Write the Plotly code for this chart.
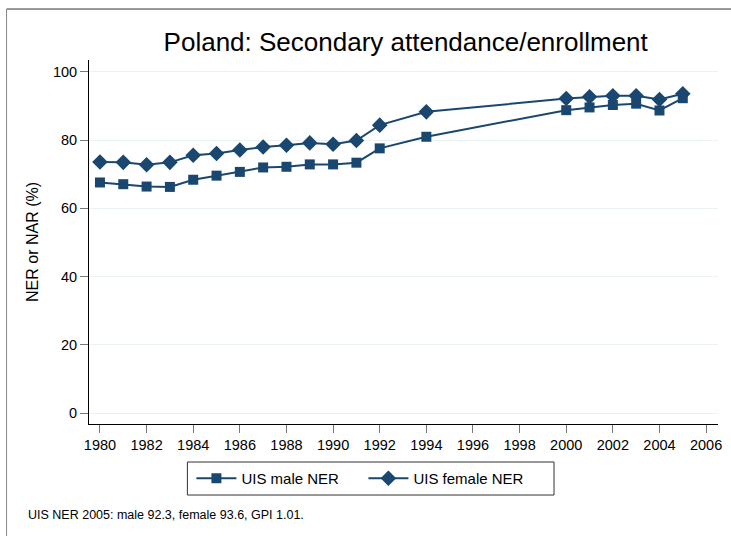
import plotly.graph_objects as go

years_male = [1980, 1981, 1982, 1983, 1984, 1985, 1986, 1987, 1988, 1989, 1990, 1991, 1992, 1994, 2000, 2001, 2002, 2003, 2004, 2005]
male_ner = [67.6, 67.1, 66.4, 66.3, 68.4, 69.6, 70.7, 72.0, 72.2, 72.9, 72.9, 73.4, 77.6, 81.0, 88.8, 89.6, 90.3, 90.7, 88.7, 92.3]
years_female = [1980, 1981, 1982, 1983, 1984, 1985, 1986, 1987, 1988, 1989, 1990, 1991, 1992, 1994, 2000, 2001, 2002, 2003, 2004, 2005]
female_ner = [73.6, 73.5, 72.8, 73.5, 75.6, 76.1, 77.1, 78.0, 78.5, 79.2, 78.8, 79.9, 84.4, 88.3, 92.2, 92.7, 93.0, 93.0, 91.9, 93.6]
x_ticks = list(range(1980, 2007, 2))
y_ticks = [0, 20, 40, 60, 80, 100]

navy = "#1a476f"
font_family = "Liberation Sans, Arial, sans-serif"

fig = go.Figure()
fig.add_trace(go.Scatter(
    x=years_male, y=male_ner, mode="lines+markers", name="UIS male NER",
    line=dict(color=navy, width=2),
    marker=dict(symbol="square", size=10, color=navy),
))
fig.add_trace(go.Scatter(
    x=years_female, y=female_ner, mode="lines+markers", name="UIS female NER",
    line=dict(color=navy, width=2),
    marker=dict(symbol="diamond", size=12, color=navy),
))

fig.update_layout(
    width=731, height=536,
    margin=dict(l=89, r=9, t=60, b=112),
    paper_bgcolor="white", plot_bgcolor="white",
    font=dict(family=font_family, color="black", size=13),
    title=dict(text="Poland: Secondary attendance/enrollment", x=0.555, xanchor="center",
               y=0.921, yanchor="middle", font=dict(size=26, color="black")),
    showlegend=True,
    legend=dict(orientation="h", x=0.1628, xanchor="left", y=-0.1044, yanchor="top",
                borderwidth=0, bgcolor="rgba(0,0,0,0)",
                font=dict(size=15), itemwidth=40, entrywidth=117),
    xaxis=dict(range=[1979.53, 2006.51], tickvals=x_ticks, ticks="outside", ticklen=8,
               tickcolor="#777777", tickwidth=1, showline=True, linecolor="black", linewidth=1,
               showgrid=False, zeroline=False, tickfont=dict(size=14.5)),
    yaxis=dict(range=[-3.2, 103.5], tickvals=y_ticks, ticks="outside", ticklen=8,
               tickcolor="#777777", tickwidth=1, showline=True, linecolor="black", linewidth=1,
               showgrid=True, gridcolor="#eaf2f3", gridwidth=1, zeroline=False,
               tickfont=dict(size=14.5),
               title=dict(text="NER or NAR (%)", font=dict(size=16), standoff=10)),
    annotations=[dict(text="UIS NER 2005: male 92.3, female 93.6, GPI 1.01.", xref="paper", yref="paper",
                      x=-0.1, y=-0.25, xanchor="left", yanchor="middle", showarrow=False,
                      font=dict(size=12.5))],
    shapes=[
        dict(type="line", xref="paper", yref="paper", x0=-0.1311, x1=1.05, y0=1.140, y1=1.140,
             line=dict(color="#333333", width=1)),
        dict(type="line", xref="paper", yref="paper", x0=-0.1311, x1=-0.1311, y0=1.140, y1=-0.35,
             line=dict(color="#888888", width=1)),
        dict(type="rect", xref="paper", yref="paper", x0=0.1564, x1=0.7393, y0=-0.1044, y1=-0.1951,
             line=dict(color="#333333", width=1), fillcolor="rgba(0,0,0,0)"),
    ],
)

fig.write_html("out.html", config={"displayModeBar": False},
               post_script="document.body.style.margin='0px';")
